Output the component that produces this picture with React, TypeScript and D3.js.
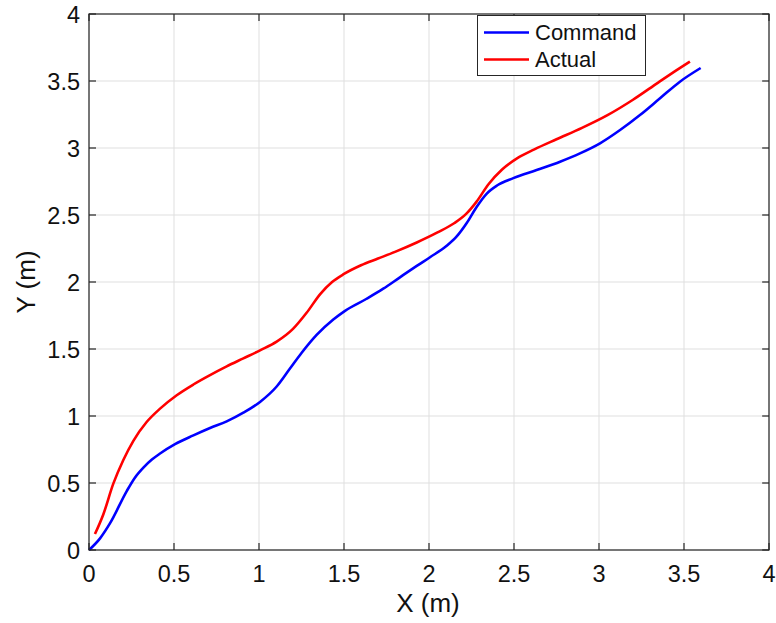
import React from "react";
import * as d3 from "d3";

const commandX = [0, 0.065, 0.124, 0.222, 0.27, 0.32, 0.37, 0.418, 0.506, 0.614, 0.712, 0.81, 0.908, 1.006, 1.104, 1.18, 1.25, 1.339, 1.437, 1.506, 1.633, 1.731, 1.829, 1.928, 2.006, 2.104, 2.163, 2.222, 2.28, 2.34, 2.4, 2.496, 2.633, 2.771, 2.888, 3.006, 3.124, 3.241, 3.359, 3.476, 3.598];
const commandY = [0, 0.087, 0.2, 0.44, 0.54, 0.615, 0.675, 0.72, 0.79, 0.855, 0.91, 0.96, 1.025, 1.105, 1.22, 1.35, 1.47, 1.605, 1.72, 1.785, 1.875, 1.95, 2.035, 2.12, 2.185, 2.27, 2.34, 2.44, 2.56, 2.66, 2.72, 2.775, 2.836, 2.898, 2.96, 3.035, 3.134, 3.246, 3.371, 3.495, 3.597];

const actualX = [0.035, 0.084, 0.143, 0.202, 0.261, 0.339, 0.418, 0.516, 0.614, 0.712, 0.81, 0.908, 1.006, 1.104, 1.2, 1.28, 1.36, 1.43, 1.5, 1.6, 1.7, 1.8, 1.928, 2.05, 2.15, 2.22, 2.28, 2.35, 2.43, 2.52, 2.62, 2.75, 2.9, 3.05, 3.2, 3.35, 3.45, 3.535];
const actualY = [0.119, 0.265, 0.495, 0.672, 0.815, 0.955, 1.055, 1.155, 1.235, 1.305, 1.37, 1.43, 1.49, 1.555, 1.65, 1.77, 1.91, 2.0, 2.06, 2.125, 2.175, 2.225, 2.295, 2.37, 2.44, 2.51, 2.6, 2.73, 2.84, 2.925, 2.99, 3.065, 3.15, 3.245, 3.36, 3.49, 3.575, 3.645];

const xTicks = [0, 0.5, 1, 1.5, 2, 2.5, 3, 3.5, 4];
const yTicks = [0, 0.5, 1, 1.5, 2, 2.5, 3, 3.5, 4];
const seriesNames = ["Command", "Actual"];
const seriesColors = ["#0000ff", "#ff0000"];

export default function App() {
  const W = 776, H = 623;
  const left = 89, right = 769, top = 14, bottom = 550;
  const x = d3.scaleLinear().domain([0, 4]).range([left, right]);
  const y = d3.scaleLinear().domain([0, 4]).range([bottom, top]);
  const line = d3.line<[number, number]>().x(d => x(d[0])).y(d => y(d[1])).curve(d3.curveMonotoneX);
  const cmd: [number, number][] = commandX.map((v, i) => [v, commandY[i]]);
  const act: [number, number][] = actualX.map((v, i) => [v, actualY[i]]);
  const font = "Liberation Sans, Arial, Helvetica, sans-serif";
  const axisColor = "#262626";
  const tl = 7;
  return (
    <svg width={W} height={H} style={{ position: "absolute", left: 0, top: 0, background: "#fff" }} fontFamily={font}>
      <rect x={0} y={0} width={W} height={H} fill="#fff" />
      {xTicks.map(t => (
        <line key={"gx" + t} x1={x(t)} x2={x(t)} y1={top} y2={bottom} stroke="#dfdfdf" strokeWidth={1} />
      ))}
      {yTicks.map(t => (
        <line key={"gy" + t} x1={left} x2={right} y1={y(t)} y2={y(t)} stroke="#dfdfdf" strokeWidth={1} />
      ))}
      <path d={line(cmd) || ""} fill="none" stroke={seriesColors[0]} strokeWidth={2.6} strokeLinejoin="round" />
      <path d={line(act) || ""} fill="none" stroke={seriesColors[1]} strokeWidth={2.6} strokeLinejoin="round" />
      <rect x={left} y={top} width={right - left} height={bottom - top} fill="none" stroke={axisColor} strokeWidth={1.2} />
      {xTicks.map(t => (
        <g key={"tx" + t}>
          <line x1={x(t)} x2={x(t)} y1={bottom} y2={bottom - tl} stroke={axisColor} strokeWidth={1.2} />
          <line x1={x(t)} x2={x(t)} y1={top} y2={top + tl} stroke={axisColor} strokeWidth={1.2} />
          <text x={x(t)} y={582} textAnchor="middle" fontSize={23.5} fill="#111">{String(t)}</text>
        </g>
      ))}
      {yTicks.map(t => (
        <g key={"ty" + t}>
          <line x1={left} x2={left + tl} y1={y(t)} y2={y(t)} stroke={axisColor} strokeWidth={1.2} />
          <line x1={right} x2={right - tl} y1={y(t)} y2={y(t)} stroke={axisColor} strokeWidth={1.2} />
          <text x={80} y={y(t) + 8.5} textAnchor="end" fontSize={23.5} fill="#111">{String(t)}</text>
        </g>
      ))}
      <text x={428} y={612} textAnchor="middle" fontSize={26} fill="#111">X (m)</text>
      <text transform={`translate(35,282) rotate(-90)`} textAnchor="middle" fontSize={26} fill="#111">Y (m)</text>
      <g>
        <rect x={477.5} y={15.5} width={168} height={60} fill="#fff" stroke="#262626" strokeWidth={1} />
        {seriesNames.map((n, i) => (
          <g key={n}>
            <line x1={484} x2={529} y1={32.5 + i * 27} y2={32.5 + i * 27} stroke={seriesColors[i]} strokeWidth={2.6} />
            <text x={535} y={40 + i * 27} fontSize={22} fill="#111">{n}</text>
          </g>
        ))}
      </g>
    </svg>
  );
}
